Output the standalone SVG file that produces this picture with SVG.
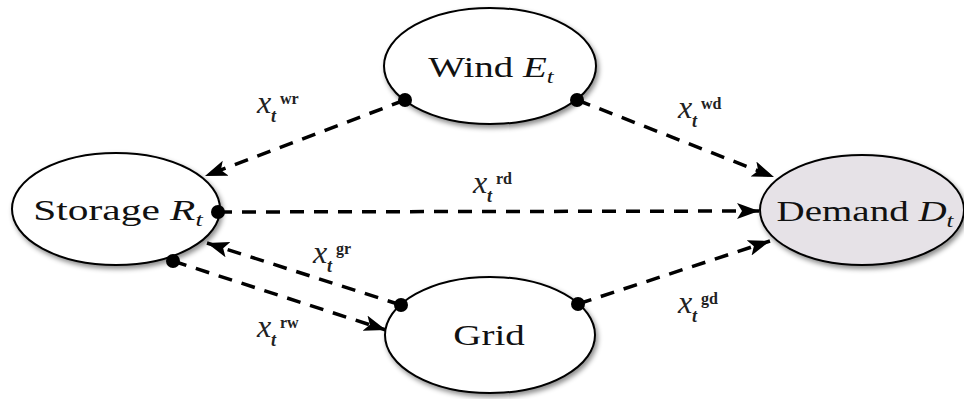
<svg xmlns="http://www.w3.org/2000/svg" width="964" height="399" viewBox="0 0 964 399">
<style>
.node{fill:#fff;stroke:#000;stroke-width:2;filter:url(#sh)}
.lbl{font-family:"Liberation Serif","Times New Roman",serif;font-size:30px;fill:#111}
.it{font-style:italic}
.sub{font-size:19px;font-style:italic}
.edge{fill:none;stroke:#000;stroke-width:3.5;stroke-dasharray:14 10}
.dot{fill:#000}
.ex{font-family:"Liberation Serif","Times New Roman",serif;font-size:32px;font-style:italic;fill:#222}
.es{font-family:"Liberation Serif","Times New Roman",serif;font-size:16px;font-weight:bold;fill:#222}
.et{font-family:"Liberation Serif","Times New Roman",serif;font-size:18px;font-style:italic;font-weight:bold;fill:#222}
</style>
<defs>
<filter id="sh" x="-10%" y="-10%" width="125%" height="130%">
<feDropShadow dx="2" dy="3" stdDeviation="2.5" flood-color="#000" flood-opacity="0.45"/>
</filter>
<marker id="ah" markerUnits="userSpaceOnUse" markerWidth="24" markerHeight="18" refX="22" refY="8" orient="auto">
<path d="M0,0 L22,8 L0,16 L5,8 z" fill="#000"/>
</marker>
</defs>
<g id="connectors">
<line class="edge" x1="405" y1="100" x2="205" y2="176" marker-end="url(#ah)"/>
<line class="edge" x1="577" y1="100" x2="774" y2="177" marker-end="url(#ah)"/>
<line class="edge" x1="218" y1="212" x2="759" y2="211" marker-end="url(#ah)"/>
<line class="edge" x1="401" y1="305" x2="207" y2="243" marker-end="url(#ah)"/>
<line class="edge" x1="173" y1="261" x2="386" y2="330" marker-end="url(#ah)"/>
<line class="edge" x1="578" y1="304" x2="770" y2="241" marker-end="url(#ah)"/>
<g id="lbl-wr"><text class="ex" x="257" y="113">x</text><text class="et" x="271" y="122">t</text><text class="es" x="280" y="104">wr</text></g>
<g id="lbl-wd"><text class="ex" x="678" y="118">x</text><text class="et" x="692" y="127">t</text><text class="es" x="701" y="109">wd</text></g>
<g id="lbl-rd"><text class="ex" x="473" y="193">x</text><text class="et" x="487" y="202">t</text><text class="es" x="496" y="184">rd</text></g>
<g id="lbl-gr"><text class="ex" x="313" y="263">x</text><text class="et" x="327" y="272">t</text><text class="es" x="336" y="254">gr</text></g>
<g id="lbl-rw"><text class="ex" x="257" y="337">x</text><text class="et" x="271" y="346">t</text><text class="es" x="280" y="328">rw</text></g>
<g id="lbl-gd"><text class="ex" x="678" y="313">x</text><text class="et" x="692" y="322">t</text><text class="es" x="701" y="304">gd</text></g>
</g>
<g id="wind">
<ellipse class="node" cx="490" cy="66" rx="106" ry="58"/>
<text class="lbl" transform="translate(491,77) scale(1.3,1)" text-anchor="middle">Wind <tspan class="it">E</tspan><tspan class="sub" dy="6">t</tspan></text>
<circle class="dot" cx="405" cy="100" r="7"/>
<circle class="dot" cx="577" cy="100" r="7"/>
</g>
<g id="storage">
<ellipse class="node" cx="116" cy="209" rx="104" ry="56"/>
<text class="lbl" transform="translate(118,220) scale(1.38,1)" text-anchor="middle">Storage <tspan class="it">R</tspan><tspan class="sub" dy="6">t</tspan></text>
<circle class="dot" cx="218" cy="212" r="7"/>
<circle class="dot" cx="173" cy="261" r="7"/>
</g>
<g id="demand">
<ellipse class="node" cx="862" cy="210" rx="102" ry="55" style="fill:#e6e2e7"/>
<text class="lbl" transform="translate(865,221) scale(1.3,1)" text-anchor="middle">Demand <tspan class="it">D</tspan><tspan class="sub" dy="6">t</tspan></text>
</g>
<g id="grid">
<ellipse class="node" cx="490" cy="335" rx="105" ry="58"/>
<text class="lbl" transform="translate(489,345) scale(1.3,1)" text-anchor="middle">Grid</text>
<circle class="dot" cx="401" cy="305" r="7"/>
<circle class="dot" cx="578" cy="304" r="7"/>
</g>
</svg>
